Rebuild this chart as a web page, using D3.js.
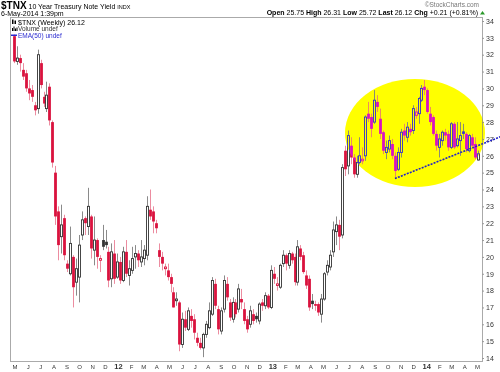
<!DOCTYPE html>
<html>
<head>
<meta charset="utf-8">
<script src="https://cdn.jsdelivr.net/npm/d3@7"></script>
<style>
  body { margin: 0; background: #fff; }
  svg { display: block; }
  text { font-family: "Liberation Sans", Arial, sans-serif; }
</style>
</head>
<body>
<script>
// weekly candles, first Monday of the series
var firstWeek = new Date(2011, 4, 2);
var lastWeek  = new Date(2014, 4, 5);

var opens = [
  33.1, 31.6, 31.8, 31.1, 30.9, 30.0, 29.9, 29.0, 28.8, 31.5,
  29.5, 28.8, 30.1, 28.0, 25.0, 22.7, 21.2, 22.3, 19.6, 19.0,
  20.0, 18.5, 18.8, 21.3, 22.3, 21.8, 22.4, 20.4, 21.0, 19.8,
  21.0, 20.9, 20.3, 18.7, 20.2, 18.8, 19.7, 18.6, 20.3, 18.9,
  19.2, 20.0, 20.2, 19.7, 19.9, 20.1, 22.8, 22.7, 22.0, 20.4,
  20.0, 19.3, 19.2, 18.8, 17.9, 17.4, 17.3, 14.8, 16.3, 15.7,
  16.5, 16.3, 15.2, 14.9, 14.6, 15.4, 15.8, 16.6, 18.4, 16.9,
  15.6, 16.9, 18.4, 17.3, 16.3, 17.3, 16.9, 17.5, 16.9, 16.3,
  16.0, 16.6, 16.5, 16.2, 17.3, 17.1, 17.7, 17.0, 19.0, 18.3,
  18.2, 19.6, 20.1, 19.5, 20.2, 20.0, 18.5, 20.5, 20.1, 18.9,
  18.7, 17.4, 17.2, 17.2, 16.6, 17.5, 19.1, 19.4, 20.3, 21.5,
  21.9, 21.3, 26.3, 25.4, 26.6, 25.9, 24.9, 25.6, 25.7, 26.0,
  28.5, 28.3, 28.0, 29.2, 28.2, 27.4, 26.2, 26.4, 26.7, 26.0,
  25.2, 26.2, 27.5, 27.1, 27.6, 27.5, 28.4, 28.5, 29.3, 30.1,
  29.9, 28.5, 28.3, 27.3, 26.5, 26.9, 27.4, 27.3, 26.5, 27.9,
  26.6, 26.9, 27.45, 27.3, 26.3, 27.1, 26.7, 25.75
];
var highs = [
  33.2, 32.5, 32.0, 31.5, 31.1, 30.5, 30.2, 29.2, 32.3, 31.7,
  29.8, 30.4, 30.3, 28.1, 25.4, 23.0, 23.1, 22.5, 19.8, 21.8,
  20.1, 19.9, 21.3, 22.7, 22.4, 24.1, 22.5, 22.4, 21.1, 20.1,
  21.9, 21.6, 20.6, 20.8, 21.0, 20.2, 20.0, 20.6, 21.0, 19.8,
  20.6, 20.7, 20.4, 21.0, 20.7, 23.6, 24.0, 23.0, 22.2, 20.8,
  20.3, 19.6, 19.6, 19.0, 18.2, 17.9, 17.4, 16.7, 16.8, 17.0,
  16.9, 16.6, 15.5, 15.2, 15.5, 16.2, 17.3, 18.8, 18.7, 17.1,
  17.0, 18.9, 18.8, 17.5, 17.6, 17.5, 18.4, 18.1, 17.3, 16.5,
  17.1, 16.9, 16.7, 17.3, 17.5, 17.9, 17.8, 19.5, 19.4, 18.8,
  19.6, 20.4, 20.2, 20.4, 20.3, 20.2, 21.0, 20.7, 20.3, 19.2,
  18.9, 17.8, 17.4, 17.3, 17.8, 19.1, 19.8, 20.4, 22.1, 22.4,
  22.2, 25.5, 26.6, 27.5, 27.1, 26.1, 26.0, 27.1, 26.5, 28.4,
  29.2, 28.5, 29.9, 29.6, 28.8, 27.5, 26.9, 27.2, 27.0, 26.2,
  26.5, 27.6, 27.9, 28.0, 27.9, 29.0, 28.9, 29.5, 30.2, 30.5,
  30.0, 28.9, 28.4, 27.5, 27.3, 27.5, 27.6, 27.5, 28.0, 28.0,
  28.0, 28.0, 27.9, 27.4, 27.3, 27.3, 27.1, 26.31
];
var lows = [
  31.5, 31.4, 31.0, 30.5, 29.8, 29.3, 29.2, 28.4, 28.5, 30.0,
  28.9, 28.6, 27.8, 25.3, 21.9, 19.8, 20.2, 19.8, 19.1, 18.9,
  17.0, 17.7, 17.3, 21.0, 21.3, 21.3, 19.9, 19.5, 19.3, 19.1,
  20.4, 20.5, 18.2, 18.2, 18.4, 18.7, 18.4, 18.5, 18.8, 18.3,
  19.0, 19.3, 19.4, 19.4, 19.5, 19.8, 22.2, 21.4, 21.4, 19.4,
  19.2, 18.9, 18.6, 17.9, 17.0, 17.1, 14.4, 14.6, 15.6, 15.6,
  15.8, 15.1, 14.7, 14.5, 14.05, 15.2, 15.7, 16.5, 16.9, 15.4,
  15.4, 16.7, 17.4, 16.2, 16.1, 16.4, 16.7, 16.9, 16.0, 15.5,
  15.8, 16.0, 16.1, 16.0, 16.8, 16.9, 16.9, 16.9, 18.4, 18.0,
  18.1, 19.4, 19.2, 19.3, 19.6, 18.3, 18.3, 19.8, 19.0, 18.1,
  16.8, 16.9, 16.8, 16.5, 16.1, 17.4, 18.9, 19.2, 20.0, 20.7,
  20.4, 21.1, 24.8, 24.9, 25.5, 24.7, 24.7, 25.5, 25.5, 25.7,
  28.0, 27.1, 27.9, 28.6, 27.0, 26.1, 25.8, 26.2, 25.8, 24.7,
  25.1, 25.9, 26.9, 26.8, 27.2, 27.3, 28.2, 27.9, 29.2, 29.6,
  28.5, 27.8, 27.2, 26.3, 25.9, 26.6, 26.9, 26.3, 26.4, 26.4,
  26.5, 26.0, 27.0, 26.2, 26.2, 26.5, 25.8, 25.72
];
var closes = [
  31.6, 31.8, 31.5, 30.7, 30.0, 29.7, 29.5, 28.7, 32.0, 30.2,
  29.1, 29.6, 28.1, 25.6, 22.4, 20.7, 21.9, 20.1, 19.3, 20.8,
  18.2, 19.3, 20.7, 22.2, 22.0, 23.0, 20.5, 21.0, 20.0, 19.9,
  20.6, 20.7, 18.6, 20.3, 18.7, 19.7, 18.6, 20.3, 19.0, 19.3,
  19.9, 20.2, 19.8, 20.0, 20.4, 23.0, 22.4, 22.1, 21.7, 20.0,
  19.6, 19.4, 18.8, 18.4, 17.0, 17.5, 14.8, 16.3, 15.8, 16.8,
  16.2, 15.5, 14.9, 14.6, 15.4, 16.0, 16.8, 18.6, 17.1, 15.7,
  16.8, 18.6, 17.6, 16.4, 17.3, 16.6, 18.1, 17.3, 16.2, 15.7,
  16.8, 16.2, 16.3, 17.2, 17.1, 17.7, 17.0, 19.2, 18.7, 18.4,
  19.5, 20.1, 19.6, 20.2, 19.8, 18.5, 20.6, 20.0, 19.1, 18.3,
  17.0, 17.2, 17.1, 16.7, 17.5, 19.0, 19.5, 20.1, 21.6, 21.9,
  21.2, 25.3, 25.2, 27.2, 25.9, 24.9, 25.6, 26.0, 25.8, 28.3,
  28.2, 27.6, 29.3, 28.9, 27.3, 26.3, 26.5, 26.9, 26.0, 25.1,
  26.2, 27.4, 27.2, 27.7, 27.4, 28.8, 28.6, 29.4, 30.0, 29.9,
  28.6, 28.0, 27.3, 26.6, 27.0, 27.4, 27.2, 26.5, 27.9, 26.5,
  27.0, 27.2, 27.3, 26.4, 27.2, 26.6, 25.9, 26.12
];

var monthLabels = ['M','J','J','A','S','O','N','D','12','F','M','A',
                   'M','J','J','A','S','O','N','D','13','F','M','A',
                   'M','J','J','A','S','O','N','D','14','F','M','A','M'];
var yTicks = d3.range(14, 35);

// hand-drawn support line under the recent range
var trendDates  = [new Date(2013, 9, 21), new Date(2014, 5, 30)];
var trendValues = [24.65, 27.15];

var width = 500, height = 372;
var plotLeft = 10, plotRight = 482, plotTop = 17.5, plotBottom = 361.5;

var weeks = d3.timeMonday.range(firstWeek, d3.timeDay.offset(lastWeek, 1));
var candles = weeks.map(function(d, i) {
  return { date: d, o: opens[i], h: highs[i], l: lows[i], c: closes[i],
           prev: i > 0 ? closes[i - 1] : null };
});

var x = d3.scaleTime().domain([firstWeek, lastWeek]).range([14, 477.6]);
var y = d3.scaleLinear().domain([14, 34]).range([358, 21]);

var red = 'rgb(218,18,62)';
var redWick = 'rgb(236,140,160)';
var dark = '#333';
var darkWick = '#8a8a8a';

var svg = d3.select('body').append('svg')
    .attr('width', width)
    .attr('height', height);

svg.append('rect').attr('width', width).attr('height', height).attr('fill', '#fff');

// header
var title = svg.append('text').attr('x', 1).attr('y', 9).attr('fill', '#000');
title.append('tspan').attr('font-size', 10).attr('font-weight', 'bold').text('$TNX');
title.append('tspan').attr('font-size', 7).text(' 10 Year Treasury Note Yield ');
title.append('tspan').attr('font-size', 5.5).text('INDX');

svg.append('text').attr('x', 1).attr('y', 15.5).attr('font-size', 7)
  .attr('fill', '#000').text('6-May-2014 1:39pm');

svg.append('text').attr('x', 479).attr('y', 6.5).attr('font-size', 6.5)
  .attr('text-anchor', 'end').attr('fill', '#777').text('\u00a9StockCharts.com');

var quote = [['Open', '25.75'], ['High', '26.31'], ['Low', '25.72'], ['Last', '26.12'], ['Chg', '+0.21 (+0.81%)']];
var qt = svg.append('text').attr('x', 478).attr('y', 15).attr('font-size', 7)
  .attr('text-anchor', 'end').attr('fill', '#000');
quote.forEach(function(q, i) {
  qt.append('tspan').attr('font-weight', 'bold').text((i ? '  ' : '') + q[0]);
  qt.append('tspan').text(' ' + q[1]);
});
svg.append('path').attr('d', 'M480,14.5 L482.5,11 L485,14.5 Z').attr('fill', '#2a9a2a');

// frame
svg.append('path')
  .attr('d', 'M' + plotLeft + ',' + plotBottom + 'V' + plotTop + 'H' + plotRight + 'V' + plotBottom + 'H' + plotLeft)
  .attr('fill', 'none').attr('stroke', '#aaa').attr('stroke-width', 1)
  .attr('shape-rendering', 'crispEdges');

// y axis on the right
var yAxis = svg.append('g').attr('transform', 'translate(' + plotRight + ',0)')
  .call(d3.axisRight(y).tickValues(yTicks).tickSize(2).tickPadding(2).tickFormat(d3.format('d')));
yAxis.select('.domain').remove();
yAxis.selectAll('line').attr('stroke', '#999');
yAxis.selectAll('text').attr('font-size', 7).attr('fill', '#333')
  .attr('font-family', '"Liberation Sans", Arial, sans-serif');

// month labels along the bottom
var months = d3.timeMonth.range(new Date(2011, 4, 1), new Date(2014, 5, 1));
svg.append('g').selectAll('text')
  .data(months)
  .join('text')
    .attr('x', function(d) { return x(d) + 1.5; })
    .attr('y', 369)
    .attr('text-anchor', 'middle')
    .attr('font-size', function(d, i) { return monthLabels[i].length > 1 ? 7.5 : 6; })
    .attr('font-weight', function(d, i) { return monthLabels[i].length > 1 ? 'bold' : 'normal'; })
    .attr('fill', '#333')
    .text(function(d, i) { return monthLabels[i]; });

// candles
var g = svg.append('g');
candles.forEach(function(d, i) {
  var up = i === 0 ? false : d.c >= d.prev;
  var col = up ? dark : red;
  var cx = Math.round(x(d.date)) + 0.5;
  g.append('line')
    .attr('x1', cx).attr('x2', cx)
    .attr('y1', y(d.h)).attr('y2', y(d.l))
    .attr('stroke', up ? darkWick : redWick).attr('stroke-width', 1);
  var top = y(Math.max(d.o, d.c));
  var bh = Math.max(1, Math.abs(y(d.o) - y(d.c)));
  if (d.c < d.o) {
    g.append('rect')
      .attr('x', cx - 1.4).attr('width', 2.8)
      .attr('y', top).attr('height', bh)
      .attr('fill', col);
  } else {
    g.append('rect')
      .attr('x', cx - 1).attr('width', 2)
      .attr('y', top).attr('height', bh)
      .attr('fill', '#fff').attr('stroke', col).attr('stroke-width', 0.9);
  }
});

// legend inside plot
svg.append('rect').attr('x', 12).attr('y', 19.5).attr('width', 1.5).attr('height', 4.5).attr('fill', '#000');
svg.append('rect').attr('x', 14.5).attr('y', 20.5).attr('width', 1.5).attr('height', 3.5).attr('fill', '#000');
svg.append('text').attr('x', 18).attr('y', 24.5).attr('font-size', 7)
  .attr('font-family', '"DejaVu Sans Mono", monospace').attr('fill', '#000')
  .text('$TNX (Weekly) 26.12');
[[12, 3], [13.5, 4.5], [15, 2.5], [16.5, 3.5]].forEach(function(b) {
  svg.append('rect').attr('x', b[0]).attr('y', 31 - b[1]).attr('width', 1).attr('height', b[1]).attr('fill', '#000');
});
svg.append('text').attr('x', 18).attr('y', 31).attr('font-size', 6.5)
  .attr('fill', '#333').text('Volume undef');
svg.append('rect').attr('x', 11).attr('y', 34.5).attr('width', 6).attr('height', 1.5).attr('fill', '#2a2ad0');
svg.append('text').attr('x', 18).attr('y', 37.5).attr('font-size', 6.5)
  .attr('fill', '#2a2ad0').text('EMA(50) undef');

// highlight ellipse: inverts the blue channel of everything under it
svg.append('ellipse')
  .attr('cx', 415).attr('cy', 133).attr('rx', 70).attr('ry', 54)
  .attr('fill', 'rgb(0,0,255)')
  .style('mix-blend-mode', 'difference');

svg.append('line')
  .attr('x1', x(trendDates[0])).attr('y1', y(trendValues[0]))
  .attr('x2', x(trendDates[1])).attr('y2', y(trendValues[1]))
  .attr('stroke', '#2222c8').attr('stroke-width', 1.6)
  .attr('stroke-dasharray', '2,1.2');
</script>
</body>
</html>
